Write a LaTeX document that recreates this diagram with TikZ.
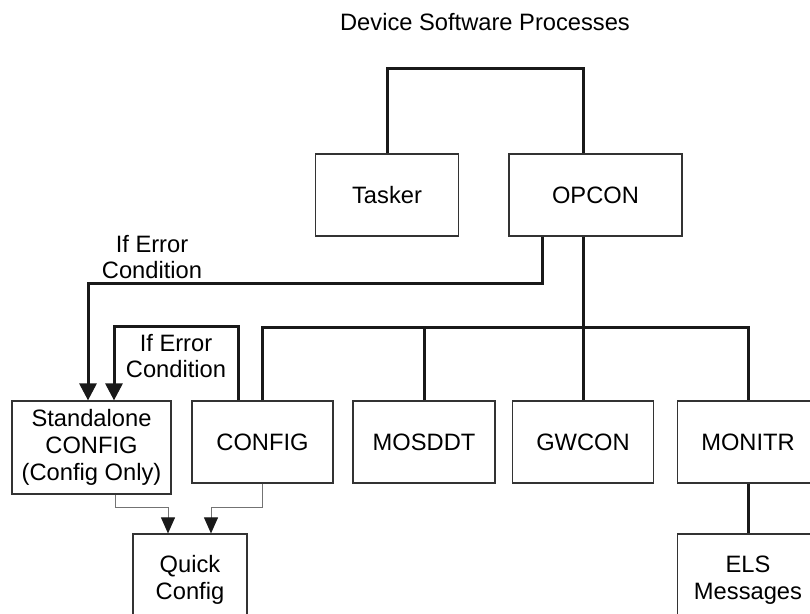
\documentclass[tikz,border=0pt]{standalone}
\usepackage{fontspec}
\setmainfont{Liberation Sans}
\usetikzlibrary{arrows.meta}

\tikzset{
  proc/.style={draw=black!80,line width=.6pt,fill=white,align=center,inner sep=0pt},
  link/.style={draw=black!90,line width=1.5pt},
  errlink/.style={link,-{Triangle[width=8.5pt,length=8.5pt]}},
  qlink/.style={draw=black!55,line width=.5pt,-{Triangle[width=7pt,length=8pt,color=black!90]}},
}

\begin{document}
\begin{tikzpicture}
  [x=.5pt,y=-.5pt,every node/.style={font=\fontsize{11.85}{13.4}\selectfont}]
  \useasboundingbox (0,0) rectangle (810,614);

  \node (title) [anchor=base] at (485,31) {Device Software Processes};

  \node[proc,minimum width=71.5pt,minimum height=41pt] (Tasker) at (387,195) {Tasker};
  \node[proc,minimum width=86.5pt,minimum height=41pt] (OPCON) at (595.5,195) {OPCON};
  \node[proc,minimum width=79.5pt,minimum height=46.5pt] (Standalone) at (91.5,447.5) {Standalone\\CONFIG\\(Config Only)};
  \node[proc,minimum width=70.5pt,minimum height=41pt] (CONFIG) at (262.5,442) {CONFIG};
  \node[proc,minimum width=71pt,minimum height=41pt] (MOSDDT) at (424,442) {MOSDDT};
  \node[proc,minimum width=70.5pt,minimum height=41pt] (GWCON) at (583,442) {GWCON};
  \node[proc,minimum width=70.5pt,minimum height=41pt] (MONITR) at (748,442) {MONITR};
  \node[proc,minimum width=57pt,minimum height=46pt] (Quick) at (190,580) {Quick\\Config};
  \node[proc,minimum width=70.5pt,minimum height=46pt] (ELS) at (748,580) {ELS\\Messages};

  \coordinate (root) at (583,69);
  \coordinate (trunk) at (583,328);
  \coordinate (e1) at (88,284);
  \coordinate (e2) at (114,327);
  \coordinate (q1) at (168,508);
  \coordinate (q2) at (211,508);

  % process tree
  \draw[link] (Tasker.north) |- (root) -- (OPCON.north -| root);
  \draw[link] (OPCON.south -| trunk) -- (trunk);
  \draw[link] (CONFIG.north) |- (trunk) -| (MONITR.north);
  \foreach \n in {MOSDDT,GWCON}
    \draw[link] (trunk -| \n.north) -- (\n.north);
  \draw[link] (MONITR) -- (ELS);

  % error paths
  \draw[errlink] ([xshift=-26.75pt]OPCON.south) |- (e1) -- (e1 |- Standalone.north);
  \draw[errlink] ([xshift=-12.25pt]CONFIG.north) |- (e2) -- (e2 |- Standalone.north);
  \node[align=center] (err1) at (152,257) {If Error\\Condition};
  \node[align=center] (err2) at (176,356) {If Error\\Condition};

  \draw[qlink] ([xshift=11.75pt]Standalone.south) |- (q1) -- (q1 |- Quick.north);
  \draw[qlink] (CONFIG.south) |- (q2) -- (q2 |- Quick.north);
\end{tikzpicture}
\end{document}
